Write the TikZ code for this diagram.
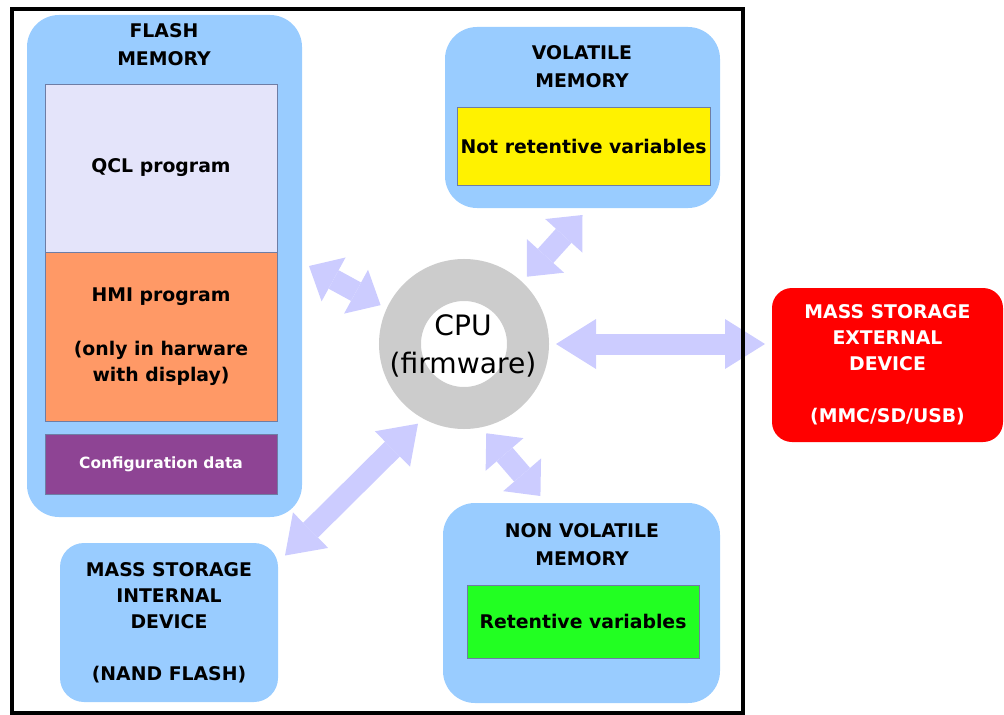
\documentclass[tikz,border=0pt]{standalone}
\usepackage{fontspec}
\setmainfont{DejaVu Sans}
\usetikzlibrary{arrows.meta}
\definecolor{boxblue}{RGB}{153,204,255}
\definecolor{qcllilac}{RGB}{228,228,250}
\definecolor{hmiorange}{RGB}{255,153,102}
\definecolor{cfgpurple}{RGB}{142,68,148}
\definecolor{retgreen}{RGB}{34,255,34}
\definecolor{linkblue}{RGB}{204,204,255}
\definecolor{ringgray}{RGB}{204,204,204}
\definecolor{edgegray}{RGB}{110,125,165}
\newcommand{\pix}{0.25mm}
\tikzset{
  memory/.style={rectangle, rounded corners=8mm, fill=boxblue, outer sep=1.75mm, inner sep=2pt},
  area/.style={rectangle, draw=edgegray, line width=0.2mm, inner sep=2pt, align=center,
    font=\bfseries\fontsize{13.4}{18.4}\selectfont},
  heading/.style={align=center, font=\bfseries\fontsize{13.4}{19.8}\selectfont},
  devtext/.style={align=center, font=\bfseries\fontsize{13.4}{18.4}\selectfont},
  link/.style={line width=5.25mm, draw=linkblue,
    {Triangle[length=#1,width=12.5mm,line width=0pt]}-{Triangle[length=#1,width=12.5mm,line width=0pt]}},
  link/.default=7mm,
}
\begin{document}
\begin{tikzpicture}[x=\pix,y=-\pix]
  \useasboundingbox (0,0) rectangle (1004,715);
  \node[memory, minimum width=275*\pix, minimum height=502*\pix] (flash) at (164.5,266) {};
  \node[heading] (flashtitle) at (164,45) {FLASH\\MEMORY};
  \node[area, fill=qcllilac, minimum width=232*\pix, minimum height=168*\pix] (qcl) at (161,168) {QCL program};
  \node[area, fill=hmiorange, minimum width=232*\pix, minimum height=169*\pix] (hmi) at (161,336.5)
    {HMI program\\[20pt](only in harware\\with display)};
  \node[area, fill=cfgpurple, text=white, minimum width=232*\pix, minimum height=60*\pix,
    font=\bfseries\fontsize{11}{13}\selectfont] (config) at (161,464) {Configuration data};
  \node[memory, minimum width=275*\pix, minimum height=181*\pix] (volatile) at (582.5,117.5) {};
  \node[heading] (volatiletitle) at (582,67) {VOLATILE\\MEMORY};
  \node[area, fill=yellow, minimum width=253*\pix, minimum height=78*\pix] (notret) at (583.5,146) {Not retentive variables};
  \node[memory, minimum width=277*\pix, minimum height=200*\pix] (nonvol) at (581.5,603) {};
  \node[heading] (nonvoltitle) at (582,545) {NON VOLATILE\\MEMORY};
  \node[area, fill=retgreen, minimum width=232*\pix, minimum height=73*\pix] (ret) at (583,621.5) {Retentive variables};
  \node[memory, rounded corners=6mm, minimum width=218*\pix, minimum height=159*\pix, devtext] (internal) at (169,622.5)
    {MASS STORAGE\\INTERNAL\\DEVICE\\[18.5pt](NAND FLASH)};
  \node[memory, rounded corners=5mm, fill=red, text=white, minimum width=231*\pix, minimum height=154*\pix, devtext] (external) at (887.5,365)
    {MASS STORAGE\\EXTERNAL\\DEVICE\\[18.5pt](MMC/SD/USB)};
  \node[circle, draw=ringgray, line width=10.5mm, minimum size=32mm, outer sep=7mm] (cpu) at (464,344) {};
  \node[align=center, font=\fontsize{20}{27.5}\selectfont] (cputext) at (463,346) {CPU\\(firmware)};
  \draw[link] (flash.east) -- (cpu.155);
  \draw[link] (cpu.47) -- (volatile.south);
  \draw[link=10mm] (cpu.east) -- (external.west |- cpu.east);
  \draw[link=9mm] (cpu.240) -- (internal.30);
  \draw[link] (cpu.284) -- (nonvol.111);
  \draw[line width=0.9mm] (12,9) rectangle (743,713);
\end{tikzpicture}
\end{document}
